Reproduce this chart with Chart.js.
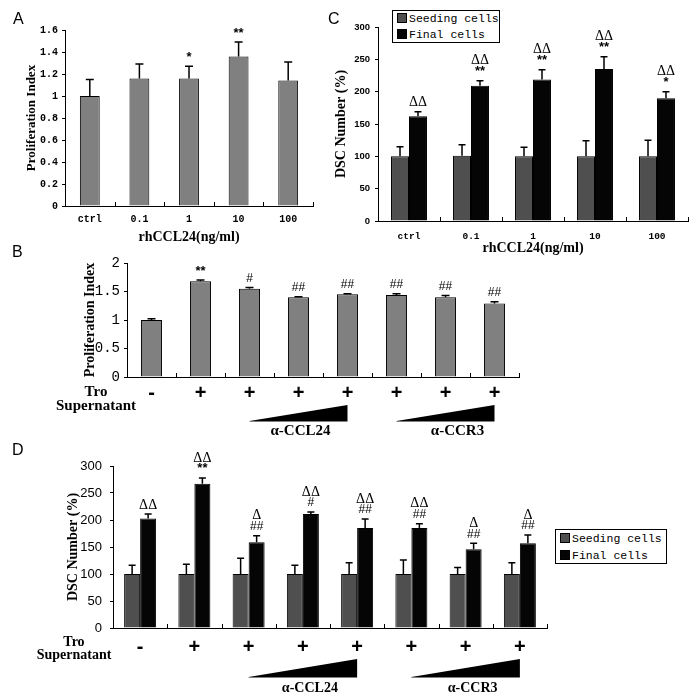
<!DOCTYPE html>
<html><head><meta charset="utf-8">
<script src="https://cdn.jsdelivr.net/npm/chart.js@4/dist/chart.umd.min.js"></script>
<style>
body{margin:0;background:#fff;width:700px;height:697px;position:relative;overflow:hidden;font-family:"Liberation Sans",Arial,sans-serif;color:#000}
canvas{position:absolute}
.pl{position:absolute;font:16px "Liberation Sans",Arial,sans-serif;line-height:16px;color:#000}
.leg{position:absolute;box-sizing:border-box;border:1.5px solid #000;background:#fff;font:11.5px "Liberation Mono",monospace;padding-left:4px;white-space:nowrap}
.sw{display:inline-block;box-sizing:border-box;width:10px;height:10px;border:1px solid #000;margin-right:2px;vertical-align:-1px}
.row{position:absolute;text-align:center;font-family:"Liberation Serif","Times New Roman",serif;font-weight:bold;white-space:nowrap}
</style></head><body>
<canvas id="cA" width="340" height="250" style="left:0;top:0;width:340px;height:250px"></canvas>
<canvas id="cC" width="370" height="262" style="left:330px;top:0;width:370px;height:262px"></canvas>
<canvas id="cB" width="530" height="205" style="left:0;top:240px;width:530px;height:205px"></canvas>
<canvas id="cD" width="700" height="257" style="left:0;top:440px;width:700px;height:257px"></canvas>
<div class="pl" style="left:13px;top:11px">A</div>
<div class="pl" style="left:328px;top:11px">C</div>
<div class="pl" style="left:12px;top:244px">B</div>
<div class="pl" style="left:12px;top:442px">D</div>
<div id="legC" class="leg" style="left:392px;top:10px;width:108px;height:33px;line-height:16px"></div>
<div id="legD" class="leg" style="left:555px;top:529px;width:112px;height:35px;line-height:17px"></div>
<div id="rowB" class="row" style="left:46px;top:384px;width:100px;font-size:15px;line-height:14px"></div>
<div id="rowD" class="row" style="left:24px;top:635px;width:100px;font-size:14px;line-height:13px"></div>
<script>
// ---- Panel A ----
const catsA = ["ctrl","0.1","1","10","100"];
const yTicksA = ["0","0.2","0.4","0.6","0.8","1","1.2","1.4","1.6"];
const valsA = [1.00,1.16,1.16,1.36,1.14];
const errA = [0.15,0.13,0.11,0.13,0.17];
const annA = [[],[],["*"],["**"],[]];

// ---- Panel C ----
const catsC = ["ctrl","0.1","1","10","100"];
const yTicksC = ["0","50","100","150","200","250","300"];
const seriesNames = ["Seeding cells","Final cells"];
const seedC = [100,101,100,100,100];
const seedErrC = [15,17,14,24,25];
const finalC = [162,209,219,235,190];
const finalErrC = [7,8,15,19,10];
const annC = [["ΔΔ"],["ΔΔ","**"],["ΔΔ","**"],["ΔΔ","**"],["ΔΔ","*"]];

// ---- Panel B ----
const catsB = ["-","+","+","+","+","+","+","+"];
const yTicksB = ["0","0.5","1","1.5","2"];
const valsB = [1.00,1.68,1.55,1.40,1.45,1.44,1.40,1.29];
const errB = [0.02,0.02,0.02,0.01,0.01,0.02,0.03,0.03];
const annB = [[],["**"],["#"],["##"],["##"],["##"],["##"],["##"]];

// ---- Panel D ----
const catsD = ["-","+","+","+","+","+","+","+"];
const yTicksD = ["0","50","100","150","200","250","300"];
const seedD = [100,100,100,100,100,100,100,100];
const seedErrD = [16,18,29,16,21,26,12,21];
const finalD = [203,267,159,211,185,185,146,157];
const finalErrD = [8,11,12,4,17,8,11,15];
const annD = [["ΔΔ"],["ΔΔ","**"],["Δ","##"],["ΔΔ","#"],["ΔΔ","##"],["ΔΔ","##"],["Δ","##"],["Δ","##"]];

// ---- shared labels ----
const rowLabel = ["Tro","Supernatant"];
const wedgeLabels = ["α-CCL24","α-CCR3"];
const wedgeFrom = [2,5];
const wedgeTo = [4,7];

const SEED_COLOR = '#4f4f4f', FINAL_COLOR = '#050505', GRAY = '#808080';

const extras = {
  id:'extras',
  afterDatasetsDraw(chart, args, o){
    const ctx = chart.ctx, ys = chart.scales.y, xs = chart.scales.x, ca = chart.chartArea;
    ctx.save();
    const n = xs.getLabels().length;
    ctx.strokeStyle = '#000'; ctx.lineWidth = 1;
    ctx.beginPath();
    for(let i=1;i<=n;i++){
      const xb = Math.round(xs.left + i*xs.width/n) + 0.5;
      ctx.moveTo(xb, ca.bottom); ctx.lineTo(xb, ca.bottom-4);
    }
    ctx.stroke();
    chart.data.datasets.forEach((ds, di)=>{
      const meta = chart.getDatasetMeta(di);
      meta.data.forEach((bar, i)=>{
        const e = ds.errors ? ds.errors[i] : 0;
        const yt = ys.getPixelForValue(ds.data[i] + e);
        ctx.strokeStyle = '#000'; ctx.lineWidth = o.errW;
        ctx.beginPath();
        ctx.moveTo(bar.x, bar.y); ctx.lineTo(bar.x, yt);
        ctx.moveTo(bar.x - o.cap/2, yt); ctx.lineTo(bar.x + o.cap/2, yt);
        ctx.stroke();
        const lines = (ds.annot && ds.annot[i]) || [];
        ctx.fillStyle = '#000'; ctx.textAlign = 'center'; ctx.textBaseline = 'middle';
        for(let k=lines.length-1, j=0; k>=0; k--, j++){
          const t = lines[k];
          ctx.font = t.includes('Δ') ? o.deltaFont : (t.includes('#') ? o.hashFont : o.starFont);
          ctx.fillText(t, bar.x, yt - o.annGap - j*o.annStep);
        }
      });
    });
    if(o.wedges){
      const w = o.wedges;
      wedgeLabels.forEach((lab, k)=>{
        const x1 = xs.getPixelForValue(wedgeFrom[k]), x2 = xs.getPixelForValue(wedgeTo[k]);
        const yT = ca.bottom + w.top, yB = ca.bottom + w.bottom;
        ctx.fillStyle = '#000';
        ctx.beginPath(); ctx.moveTo(x1, yB); ctx.lineTo(x2, yT); ctx.lineTo(x2, yB+0.5); ctx.lineTo(x1, yB+0.5); ctx.closePath(); ctx.fill();
        ctx.font = w.font; ctx.textAlign = 'center'; ctx.textBaseline = 'middle';
        ctx.fillText(lab, (x1+x2)/2 + w.shifts[k], ca.bottom + w.labelOff);
      });
    }
    ctx.restore();
  }
};

function build(id, o){
  return new Chart(document.getElementById(id), {
    type:'bar',
    data:{labels:o.labels, datasets:o.datasets},
    options:{
      responsive:false, animation:false, devicePixelRatio:1,
      layout:{padding:o.pad},
      plugins:{legend:{display:false}, tooltip:{enabled:false}, extras:o.ex},
      scales:{
        x:{
          grid:{display:false, drawTicks:false},
          border:{display:true, color:'#000', width:1},
          ticks:{color:'#000', font:o.xFont, padding:o.xPad, autoSkip:false, maxRotation:0, minRotation:0},
          title: o.xTitle ? {display:true, text:o.xTitle, color:'#000', font:{family:'Liberation Serif', size:14, weight:'bold'}, padding:{top:0, bottom:o.xTitlePad}} : {display:false},
          afterFit: s => { s.height = o.xH; }
        },
        y:{
          min:0, max:o.ymax,
          grid:{display:true, drawOnChartArea:false, drawTicks:true, tickLength:3, color:'#000'},
          border:{display:true, color:'#000', width:1},
          ticks:{stepSize:o.step, color:'#000', font:o.yFont, padding:o.yPad, callback:(v,i)=>o.yTicks[i]},
          title:{display:true, text:o.yTitle, color:'#000', font:o.yTitleFont, padding:{top:o.yTitlePad, bottom:0}},
          afterFit: s => { s.width = o.yW; }
        }
      }
    },
    plugins:[extras]
  });
}

const annCommon = {errW:1.5, deltaFont:'14px "Liberation Serif"', hashFont:'12px "Liberation Sans"', starFont:'bold 13px "Liberation Sans"', annGap:9, annStep:11};

// Panel A
build('cA', {
  labels:catsA,
  datasets:[{data:valsA, errors:errA, annot:annA, backgroundColor:GRAY, borderColor:'#000', borderWidth:1, barPercentage:0.4, categoryPercentage:1}],
  pad:{left:0, top:30, right:27, bottom:0},
  xFont:{family:'Liberation Mono', size:10, weight:'bold'}, xPad:7, xTitle:'rhCCL24(ng/ml)', xTitlePad:4.6, xH:44,
  ymax:1.6, step:0.2, yTicks:yTicksA, yFont:{family:'Liberation Mono', size:10, weight:'bold'}, yPad:4,
  yTitle:'Proliferation Index', yTitleFont:{family:'Liberation Serif', size:13, weight:'bold'}, yTitlePad:24, yW:65,
  ex:Object.assign({cap:8}, annCommon)
});

// Panel C
build('cC', {
  labels:catsC,
  datasets:[
    {label:seriesNames[0], data:seedC, errors:seedErrC, backgroundColor:SEED_COLOR, borderColor:'#000', borderWidth:1, barPercentage:1, categoryPercentage:0.58},
    {label:seriesNames[1], data:finalC, errors:finalErrC, annot:annC, backgroundColor:FINAL_COLOR, borderColor:'#000', borderWidth:1, barPercentage:1, categoryPercentage:0.58}
  ],
  pad:{left:0, top:27, right:12, bottom:0},
  xFont:{family:'Liberation Mono', size:9.5, weight:'bold'}, xPad:10, xTitle:'rhCCL24(ng/ml)', xTitlePad:5.6, xH:41,
  ymax:300, step:50, yTicks:yTicksC, yFont:{family:'Liberation Sans', size:9.5, weight:'bold'}, yPad:5,
  yTitle:'DSC Number (%)', yTitleFont:{family:'Liberation Serif', size:14, weight:'bold'}, yTitlePad:2.6, yW:48,
  ex:Object.assign({cap:7}, annCommon)
});

// Panel B
build('cB', {
  labels:catsB,
  datasets:[{data:valsB, errors:errB, annot:annB, backgroundColor:GRAY, borderColor:'#000', borderWidth:1, barPercentage:0.43, categoryPercentage:1}],
  pad:{left:0, top:23, right:11, bottom:0},
  xFont:{family:'Liberation Sans', size:20, weight:'bold'}, xPad:4, xTitle:null, xH:68,
  ymax:2, step:0.5, yTicks:yTicksB, yFont:{family:'Liberation Mono', size:14}, yPad:4,
  yTitle:'Proliferation Index', yTitleFont:{family:'Liberation Serif', size:14, weight:'bold'}, yTitlePad:81.6, yW:127,
  ex:Object.assign({cap:8, wedges:{top:28, bottom:44, labelOff:54, font:'bold 15px "Liberation Serif"', shifts:[2,12]}}, annCommon)
});

// Panel D
build('cD', {
  labels:catsD,
  datasets:[
    {label:seriesNames[0], data:seedD, errors:seedErrD, backgroundColor:SEED_COLOR, borderColor:'#000', borderWidth:1, barPercentage:1, categoryPercentage:0.59},
    {label:seriesNames[1], data:finalD, errors:finalErrD, annot:annD, backgroundColor:FINAL_COLOR, borderColor:'#000', borderWidth:1, barPercentage:1, categoryPercentage:0.59}
  ],
  pad:{left:0, top:26, right:153, bottom:0},
  xFont:{family:'Liberation Sans', size:20, weight:'bold'}, xPad:7, xTitle:null, xH:69,
  ymax:300, step:50, yTicks:yTicksD, yFont:{family:'Liberation Sans', size:13}, yPad:8,
  yTitle:'DSC Number (%)', yTitleFont:{family:'Liberation Serif', size:14, weight:'bold'}, yTitlePad:64.6, yW:113,
  ex:Object.assign({cap:7, wedges:{top:31, bottom:49, labelOff:60, font:'bold 14px "Liberation Serif"', shifts:[7,7]}}, annCommon)
});

// HTML legends and row labels built from the named arrays
function fillLegend(id){
  const el = document.getElementById(id);
  const cols = [SEED_COLOR, FINAL_COLOR];
  seriesNames.forEach((nm, i)=>{
    const d = document.createElement('div');
    const s = document.createElement('span'); s.className = 'sw'; s.style.background = cols[i];
    d.appendChild(s); d.appendChild(document.createTextNode(nm));
    el.appendChild(d);
  });
}
fillLegend('legC'); fillLegend('legD');
['rowB','rowD'].forEach(id=>{
  const el = document.getElementById(id);
  rowLabel.forEach(t=>{ const d=document.createElement('div'); d.textContent=t; el.appendChild(d); });
});
</script>
</body></html>
